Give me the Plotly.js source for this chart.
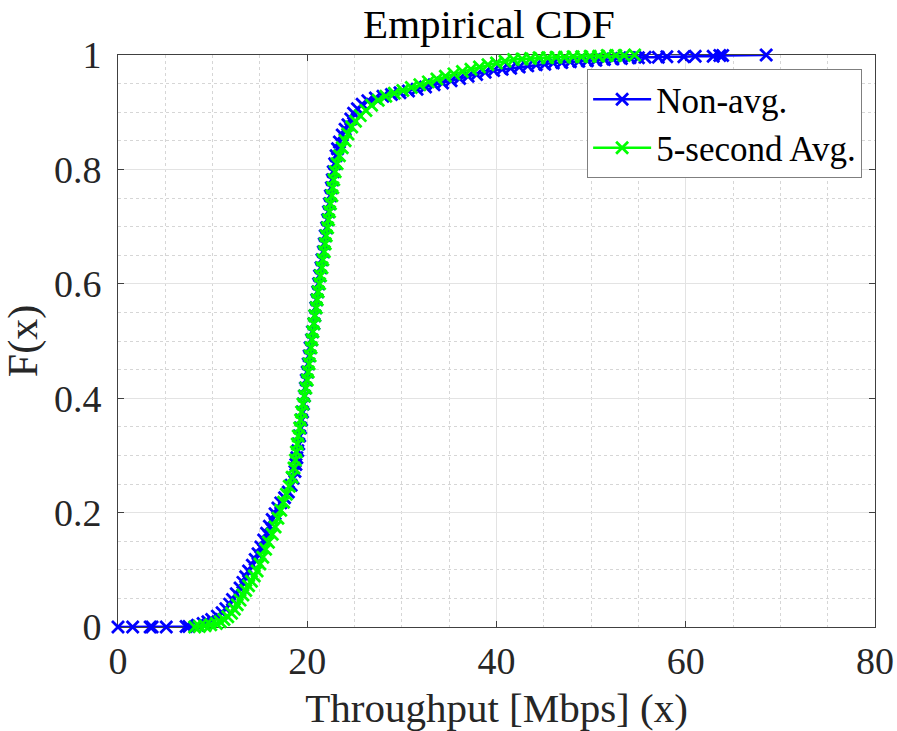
<!DOCTYPE html>
<html>
<head>
<meta charset="utf-8">
<script src="https://cdn.plot.ly/plotly-3.0.1.min.js"></script>
<style>html,body{margin:0;padding:0;background:#fff;}#chart{width:897px;height:731px;}</style>
</head>
<body>
<div id="chart"></div>
<script>
// Non-averaged throughput samples (Mbps) and empirical CDF values
const nonAvgX = [0.0,1.55,3.4,3.6,5.1,7.2,7.5,8.4,9.0,9.5,9.9,10.5,11.0,11.4,11.8,12.1,12.5,12.9,13.2,13.5,13.8,14.2,14.5,14.8,15.1,15.4,15.7,16.0,16.3,16.6,16.9,17.2,17.6,18.0,18.3,18.5,18.7,18.8,18.9,19.0,19.1,19.2,19.3,19.4,19.5,19.6,19.7,19.8,19.9,20.0,20.1,20.2,20.3,20.45,20.55,20.7,20.8,20.9,21.0,21.1,21.2,21.3,21.45,21.55,21.7,21.8,21.9,22.05,22.15,22.25,22.35,22.45,22.55,22.65,22.75,22.9,23.05,23.2,23.4,23.7,24.0,24.3,24.6,24.9,25.3,25.8,26.4,27.2,28.0,28.9,29.8,30.7,31.6,32.5,33.4,34.3,35.2,36.1,37.0,37.9,38.8,39.7,40.6,41.5,42.4,43.3,44.2,45.1,46.0,46.9,47.8,48.7,49.6,50.5,51.4,52.3,53.2,54.1,55.0,55.7,57.1,58.0,59.8,61.0,62.9,63.6,63.9,68.5];
const nonAvgF = [0.000,0.000,0.000,0.000,0.000,0.001,0.001,0.003,0.006,0.009,0.013,0.019,0.025,0.032,0.040,0.048,0.058,0.068,0.078,0.088,0.098,0.108,0.118,0.128,0.140,0.152,0.164,0.176,0.188,0.198,0.208,0.217,0.226,0.236,0.248,0.260,0.272,0.284,0.296,0.308,0.320,0.334,0.348,0.362,0.376,0.390,0.404,0.418,0.432,0.446,0.460,0.474,0.488,0.502,0.516,0.530,0.544,0.558,0.572,0.586,0.600,0.614,0.628,0.642,0.656,0.670,0.684,0.698,0.712,0.726,0.740,0.754,0.768,0.782,0.796,0.810,0.824,0.836,0.848,0.860,0.870,0.878,0.888,0.898,0.906,0.914,0.920,0.925,0.928,0.931,0.934,0.937,0.940,0.944,0.948,0.951,0.955,0.959,0.963,0.966,0.970,0.973,0.975,0.977,0.979,0.981,0.983,0.984,0.986,0.987,0.988,0.989,0.990,0.991,0.992,0.993,0.994,0.995,0.995,0.996,0.996,0.997,0.997,0.998,0.998,0.999,0.999,1.000];

// 5-second averaged throughput samples (Mbps) and empirical CDF values
const avgX = [8.1,8.6,9.2,9.8,10.4,10.8,11.2,11.6,12.0,12.3,12.6,12.9,13.2,13.5,13.8,14.1,14.4,14.7,15.0,15.3,15.6,15.9,16.3,16.6,16.9,17.2,17.5,17.8,18.1,18.4,18.6,18.75,18.85,18.95,19.05,19.2,19.3,19.4,19.55,19.7,19.85,20.0,20.1,20.2,20.3,20.4,20.5,20.6,20.7,20.8,20.95,21.05,21.15,21.3,21.4,21.55,21.65,21.8,21.9,22.0,22.15,22.25,22.35,22.45,22.6,22.7,22.8,22.95,23.15,23.4,23.7,24.0,24.3,24.7,25.1,25.6,26.2,26.8,27.5,28.3,29.2,30.1,31.0,31.9,32.8,33.7,34.6,35.5,36.4,37.3,38.2,39.1,40.0,40.9,41.8,42.7,43.6,44.5,45.4,46.3,47.2,48.1,49.0,49.9,50.8,51.7,52.6,53.5,54.6];
const avgF = [0.000,0.001,0.002,0.004,0.006,0.009,0.013,0.018,0.024,0.031,0.039,0.047,0.056,0.064,0.072,0.080,0.089,0.098,0.110,0.122,0.136,0.148,0.162,0.175,0.190,0.204,0.218,0.232,0.246,0.262,0.278,0.292,0.306,0.320,0.334,0.348,0.362,0.376,0.390,0.404,0.418,0.432,0.446,0.460,0.474,0.488,0.502,0.516,0.530,0.544,0.558,0.572,0.586,0.600,0.614,0.628,0.642,0.656,0.670,0.684,0.698,0.712,0.726,0.740,0.754,0.768,0.782,0.796,0.810,0.824,0.838,0.850,0.862,0.874,0.884,0.894,0.903,0.912,0.921,0.928,0.933,0.938,0.943,0.948,0.953,0.958,0.963,0.967,0.971,0.975,0.979,0.983,0.986,0.989,0.992,0.993,0.994,0.995,0.995,0.996,0.996,0.997,0.997,0.998,0.998,0.999,0.999,0.999,1.000];

const seriesNames = ['Non-avg.', '5-second Avg.'];
const xTickVals = [0, 20, 40, 60, 80];
const yTickVals = [0, 0.2, 0.4, 0.6, 0.8, 1];

const FONT = "'Liberation Serif', 'Times New Roman', serif";

function trace(x, y, name, color) {
  return {
    x: x, y: y, name: name, type: 'scatter', mode: 'lines+markers',
    line: {color: color, width: 2.5},
    marker: {symbol: 'x-thin', size: 12, color: color, line: {color: color, width: 2.8}},
    cliponaxis: false
  };
}

const data = [
  trace(nonAvgX, nonAvgF, seriesNames[0], '#0000ff'),
  trace(avgX, avgF, seriesNames[1], '#00ff00')
];

const axisCommon = {
  showline: true, linecolor: '#404040', linewidth: 1, mirror: 'ticks',
  ticks: 'inside', ticklen: 6, tickcolor: '#404040', tickwidth: 1,
  showgrid: true, gridcolor: '#e3e3e3', gridwidth: 1,
  zeroline: false,
  tickfont: {family: FONT, size: 38, color: '#262626'},
  layer: 'below traces'
};

const layout = {
  width: 897, height: 731,
  margin: {l: 118, r: 22, t: 55, b: 104, pad: 0},
  paper_bgcolor: '#ffffff', plot_bgcolor: '#ffffff',
  showlegend: true,
  title: {text: 'Empirical CDF', font: {family: FONT, size: 41, color: '#000'},
          x: 0.49, xref: 'paper', xanchor: 'center', y: 0.968, yanchor: 'middle'},
  xaxis: Object.assign({}, axisCommon, {
    range: [0, 80], tickvals: xTickVals, ticktext: xTickVals.map(String),
    minor: {dtick: 5, tick0: 0, showgrid: true, gridcolor: '#d6d6d6', griddash: 'dot', gridwidth: 1, ticks: ''},
    ticklabelstandoff: 0,
    title: {text: 'Throughput [Mbps] (x)', font: {family: FONT, size: 41, color: '#262626'}, standoff: 14}
  }),
  yaxis: Object.assign({}, axisCommon, {
    range: [0, 1], tickvals: yTickVals, ticktext: yTickVals.map(String),
    minor: {dtick: 0.05, tick0: 0, showgrid: true, gridcolor: '#d6d6d6', griddash: 'dot', gridwidth: 1, ticks: ''},
    ticklabelstandoff: 8,
    title: {text: 'F(x)', font: {family: FONT, size: 42, color: '#262626'}, standoff: 10}
  }),
  legend: {
    x: 0.983, xanchor: 'right', y: 0.9755, yanchor: 'top',
    bgcolor: '#ffffff', bordercolor: '#7f7f7f', borderwidth: 1,
    font: {family: FONT, size: 35, color: '#000'},
    tracegroupgap: 0, itemwidth: 58
  }
};

Plotly.newPlot('chart', data, layout, {displayModeBar: false, staticPlot: true});
</script>
</body>
</html>
